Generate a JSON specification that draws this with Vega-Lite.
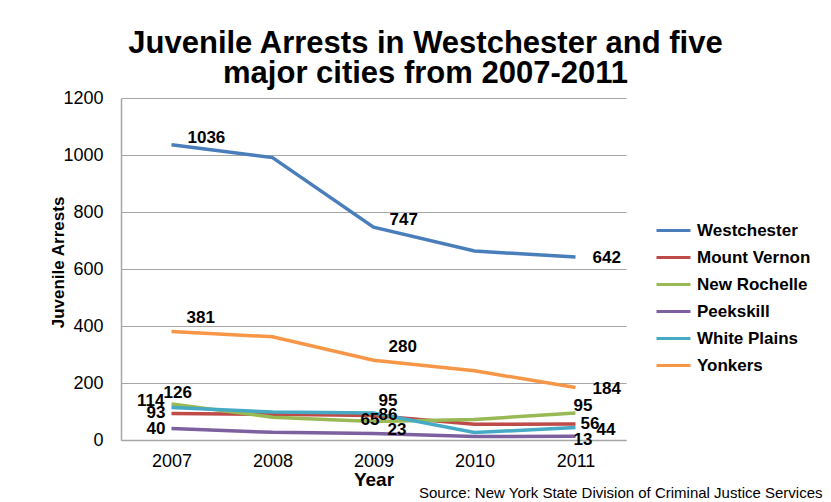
{
  "$schema": "https://vega.github.io/schema/vega-lite/v6.json",
  "width": 505,
  "height": 342,
  "autosize": {"type": "none"},
  "padding": {"left": 121, "top": 98, "right": 205, "bottom": 62},
  "background": "white",
  "title": {
    "text": ["Juvenile Arrests in Westchester and five", "major cities from 2007-2011"],
    "anchor": "middle",
    "dx": 52,
    "dy": 5,
    "offset": 4,
    "font": "Liberation Sans",
    "fontSize": 31,
    "fontWeight": "bold",
    "lineHeight": 30,
    "color": "#000000"
  },
  "data": {
    "values": [
      {"city": "Westchester", "year": 2007, "arrests": 1036},
      {"city": "Westchester", "year": 2008, "arrests": 991},
      {"city": "Westchester", "year": 2009, "arrests": 747},
      {"city": "Westchester", "year": 2010, "arrests": 663},
      {"city": "Westchester", "year": 2011, "arrests": 642},
      {"city": "Mount Vernon", "year": 2007, "arrests": 93},
      {"city": "Mount Vernon", "year": 2008, "arrests": 90},
      {"city": "Mount Vernon", "year": 2009, "arrests": 86},
      {"city": "Mount Vernon", "year": 2010, "arrests": 55},
      {"city": "Mount Vernon", "year": 2011, "arrests": 56},
      {"city": "New Rochelle", "year": 2007, "arrests": 126},
      {"city": "New Rochelle", "year": 2008, "arrests": 80},
      {"city": "New Rochelle", "year": 2009, "arrests": 65},
      {"city": "New Rochelle", "year": 2010, "arrests": 72},
      {"city": "New Rochelle", "year": 2011, "arrests": 95},
      {"city": "Peekskill", "year": 2007, "arrests": 40},
      {"city": "Peekskill", "year": 2008, "arrests": 27},
      {"city": "Peekskill", "year": 2009, "arrests": 23},
      {"city": "Peekskill", "year": 2010, "arrests": 12},
      {"city": "Peekskill", "year": 2011, "arrests": 13},
      {"city": "White Plains", "year": 2007, "arrests": 114},
      {"city": "White Plains", "year": 2008, "arrests": 98},
      {"city": "White Plains", "year": 2009, "arrests": 95},
      {"city": "White Plains", "year": 2010, "arrests": 26},
      {"city": "White Plains", "year": 2011, "arrests": 44},
      {"city": "Yonkers", "year": 2007, "arrests": 381},
      {"city": "Yonkers", "year": 2008, "arrests": 362},
      {"city": "Yonkers", "year": 2009, "arrests": 280},
      {"city": "Yonkers", "year": 2010, "arrests": 243},
      {"city": "Yonkers", "year": 2011, "arrests": 184}
    ]
  },
  "encoding": {
    "y": {
      "field": "arrests",
      "type": "quantitative",
      "scale": {"domain": [0, 1200], "nice": false},
      "axis": {
        "title": "Juvenile Arrests",
        "values": [0, 200, 400, 600, 800, 1000, 1200],
        "format": "d",
        "ticks": false,
        "labelPadding": 18,
        "labelFont": "Liberation Sans",
        "labelFontSize": 18,
        "labelColor": "#000000",
        "titleFont": "Liberation Sans",
        "titleFontSize": 17,
        "titleFontWeight": "bold",
        "titleColor": "#000000",
        "titleX": -63,
        "titleY": 164,
        "titleBaseline": "middle",
        "titleAlign": "center",
        "titleAngle": -90,
        "grid": true,
        "gridColor": "#a6a6a6",
        "gridWidth": 1,
        "domainColor": "#a6a6a6",
        "domainWidth": 1.5
      }
    }
  },
  "layer": [
    {
      "mark": {"type": "line", "strokeWidth": 3.5},
      "encoding": {
        "x": {
          "field": "year",
          "type": "ordinal",
          "scale": {"type": "point", "padding": 0.5},
          "axis": {
            "orient": "bottom",
            "title": "Year",
            "labelAngle": 0,
            "ticks": false,
            "grid": false,
            "labelPadding": 12,
            "labelFont": "Liberation Sans",
            "labelFontSize": 18,
            "labelColor": "#000000",
            "titleFont": "Liberation Sans",
            "titleFontSize": 19,
            "titleFontWeight": "bold",
            "titleColor": "#000000",
            "titlePadding": 0,
            "domainColor": "#a6a6a6",
            "domainWidth": 1.5
          }
        },
        "color": {
          "field": "city",
          "type": "nominal",
          "sort": ["Westchester", "Mount Vernon", "New Rochelle", "Peekskill", "White Plains", "Yonkers"],
          "scale": {
            "domain": ["Westchester", "Mount Vernon", "New Rochelle", "Peekskill", "White Plains", "Yonkers"],
            "range": ["#4a7ebb", "#be4b48", "#98b954", "#7d60a0", "#46aac5", "#f79646"]
          },
          "legend": {
            "title": null,
            "orient": "none",
            "legendX": 534,
            "legendY": 114,
            "symbolType": "stroke",
            "symbolSize": 1156,
            "symbolStrokeWidth": 3,
            "labelFont": "Liberation Sans",
            "labelFontSize": 17,
            "labelFontWeight": "bold",
            "labelColor": "#000000",
            "labelOffset": 5,
            "rowPadding": 0
          }
        }
      }
    },
    {
      "encoding": {
        "x": {
          "field": "year",
          "type": "ordinal",
          "scale": {"type": "point", "padding": 0.5},
          "axis": {
            "orient": "bottom",
            "title": "Source: New York State Division of Criminal Justice Services",
            "labels": false,
            "ticks": false,
            "domain": false,
            "grid": false,
            "titleX": 701,
            "titleY": 52,
            "titleAlign": "right",
            "titleBaseline": "middle",
            "titleFont": "Liberation Sans",
            "titleFontSize": 15,
            "titleFontWeight": "normal",
            "titleColor": "#000000",
            "titleLimit": 600
          }
        },
        "text": {"field": "arrests", "type": "quantitative"}
      },
      "layer": [
        {
          "transform": [{"filter": "datum.city === 'Westchester' && (datum.year === 2007 || datum.year === 2009)"}],
          "mark": {"type": "text", "align": "left", "baseline": "middle", "dx": 16, "dy": -7, "font": "Liberation Sans", "fontSize": 17, "fontWeight": "bold", "color": "#000000"}
        },
        {
          "transform": [{"filter": "datum.city === 'Yonkers' && (datum.year === 2007 || datum.year === 2009)"}],
          "mark": {"type": "text", "align": "left", "baseline": "middle", "dx": 15, "dy": -13, "font": "Liberation Sans", "fontSize": 17, "fontWeight": "bold", "color": "#000000"}
        },
        {
          "transform": [{"filter": "(datum.city === 'Westchester' || datum.city === 'Yonkers') && datum.year === 2011"}],
          "mark": {"type": "text", "align": "left", "baseline": "middle", "dx": 17, "dy": 1, "font": "Liberation Sans", "fontSize": 17, "fontWeight": "bold", "color": "#000000"}
        },
        {
          "transform": [{"filter": "datum.city === 'New Rochelle' && datum.year === 2007"}],
          "mark": {"type": "text", "align": "left", "baseline": "middle", "dx": -8, "dy": -11, "font": "Liberation Sans", "fontSize": 17, "fontWeight": "bold", "color": "#000000"}
        },
        {
          "transform": [{"filter": "datum.city === 'White Plains' && datum.year === 2009"}],
          "mark": {"type": "text", "align": "left", "baseline": "middle", "dx": 5, "dy": -12, "font": "Liberation Sans", "fontSize": 17, "fontWeight": "bold", "color": "#000000"}
        },
        {
          "transform": [{"filter": "datum.city === 'White Plains' && datum.year === 2007"}],
          "mark": {"type": "text", "align": "right", "baseline": "middle", "dx": -7, "dy": -7, "font": "Liberation Sans", "fontSize": 17, "fontWeight": "bold", "color": "#000000"}
        },
        {
          "transform": [{"filter": "(datum.city === 'Mount Vernon' || datum.city === 'Peekskill') && datum.year === 2007"}],
          "mark": {"type": "text", "align": "right", "baseline": "middle", "dx": -6, "dy": 0, "font": "Liberation Sans", "fontSize": 17, "fontWeight": "bold", "color": "#000000"}
        },
        {
          "transform": [{"filter": "datum.city === 'New Rochelle' && datum.year === 2009"}],
          "mark": {"type": "text", "align": "right", "baseline": "middle", "dx": 6, "dy": -1, "font": "Liberation Sans", "fontSize": 17, "fontWeight": "bold", "color": "#000000"}
        },
        {
          "transform": [{"filter": "datum.city === 'Mount Vernon' && (datum.year === 2009 || datum.year === 2011)"}],
          "mark": {"type": "text", "align": "left", "baseline": "middle", "dx": 5, "dy": 0, "font": "Liberation Sans", "fontSize": 17, "fontWeight": "bold", "color": "#000000"}
        },
        {
          "transform": [{"filter": "datum.city === 'Peekskill' && datum.year === 2009"}],
          "mark": {"type": "text", "align": "left", "baseline": "middle", "dx": 14, "dy": -3, "font": "Liberation Sans", "fontSize": 17, "fontWeight": "bold", "color": "#000000"}
        },
        {
          "transform": [{"filter": "datum.city === 'New Rochelle' && datum.year === 2011"}],
          "mark": {"type": "text", "align": "left", "baseline": "middle", "dx": -2, "dy": -7, "font": "Liberation Sans", "fontSize": 17, "fontWeight": "bold", "color": "#000000"}
        },
        {
          "transform": [{"filter": "datum.city === 'White Plains' && datum.year === 2011"}],
          "mark": {"type": "text", "align": "left", "baseline": "middle", "dx": 21, "dy": 3, "font": "Liberation Sans", "fontSize": 17, "fontWeight": "bold", "color": "#000000"}
        },
        {
          "transform": [{"filter": "datum.city === 'Peekskill' && datum.year === 2011"}],
          "mark": {"type": "text", "align": "left", "baseline": "middle", "dx": -2, "dy": 4, "font": "Liberation Sans", "fontSize": 17, "fontWeight": "bold", "color": "#000000"}
        }
      ]
    }
  ],
  "resolve": {"axis": {"x": "independent"}},
  "config": {
    "view": {"stroke": null}
  }
}
